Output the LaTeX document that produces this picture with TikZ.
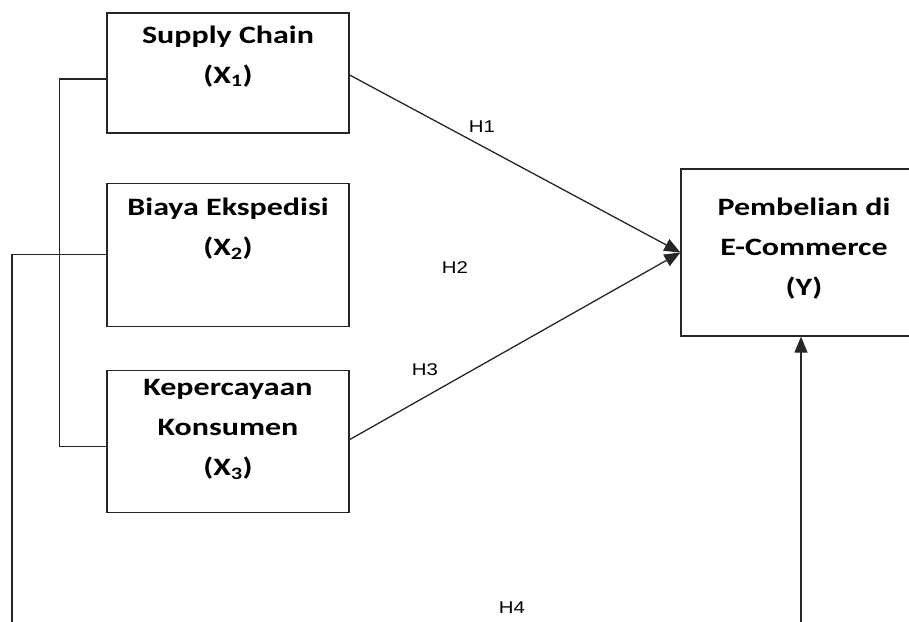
\documentclass[tikz,border=0pt]{standalone}
\usepackage{fontspec}
\setmainfont[FakeStretch=1.28]{Carlito}
\newfontfamily\hfont[FakeStretch=1.2]{Liberation Sans}
\usetikzlibrary{positioning,arrows.meta}

\begin{document}
\begin{tikzpicture}[x=1pt,y=-1pt,
      box/.style={draw=black!85,line width=1.3pt,minimum width=242pt,inner sep=0pt},
      txt/.style={align=center,inner sep=0pt,font=\bfseries\fontsize{25}{40}\selectfont},
      hyp/.style={font=\hfont\fontsize{17}{20}\selectfont,inner sep=0pt},
      ln/.style={line width=1.3pt,black!85},
      arr/.style={ln,-{Triangle[length=16pt,width=13pt]}},
      node distance=49pt]
    \useasboundingbox (0,0) rectangle (909,621);
    % variabel bebas
    \node[box,minimum height=120pt] (x1) at (228,73) {};
    \node[box,minimum height=143pt,below=49pt of x1] (x2) {};
    \node[box,minimum height=142pt,below=43pt of x2] (x3) {};
    % variabel terikat
    \node[box,minimum width=246pt,minimum height=167pt] (y) at (804,252.5) {};
    \node[txt,below=13pt of x1.north] (x1t) {Supply Chain\\(X\textsubscript{1})};
    \node[txt,below=15pt of x2.north] (x2t) {Biaya Ekspedisi\\(X\textsubscript{2})};
    \node[txt,below=9pt of x3.north] (x3t) {Kepercayaan\\Konsumen\\(X\textsubscript{3})};
    \node[txt,below=29pt of y.north] (yt) {Pembelian di\\E-Commerce\\(Y)};
    \coordinate (h4a) at (12,640);
    \coordinate (h4b) at (801,640);
    \draw[ln] ([yshift=-6pt]x1.west) -- ++(-47,0) |- ([yshift=-5pt]x3.west);
    \draw[ln] (x2.west) -| (h4a);
    \draw[arr] ([yshift=-2pt]x1.east) -- (y.west);
    \draw[arr] ([yshift=2pt]x3.east) -- (y.west);
    \draw[arr] (h4b) -- (h4b |- y.south);
    \node[hyp] (h1) at (482,127) {H1};
    \node[hyp] (h2) at (455,268) {H2};
    \node[hyp] (h3) at (425,370) {H3};
    \node[hyp] (h4) at (512,608) {H4};
\end{tikzpicture}
\end{document}
